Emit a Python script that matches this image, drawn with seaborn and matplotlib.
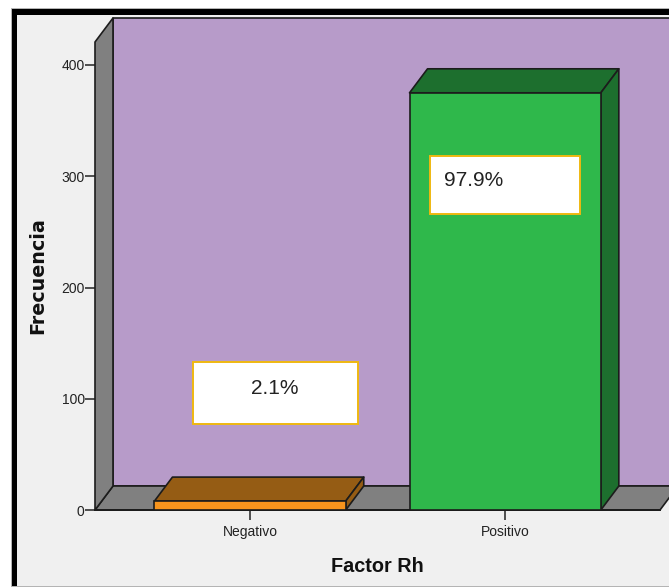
import matplotlib
matplotlib.use("Agg")
import matplotlib.pyplot as plt
import seaborn as sns
import pandas as pd
from matplotlib.patches import Polygon, Rectangle
from matplotlib.transforms import IdentityTransform

categories = ["Negativo", "Positivo"]
frequencies = [8, 375]
percent_labels = ["2.1%", "97.9%"]
front_colors = ["#f7941d", "#2fb84b"]
shade_colors = ["#955c14", "#1d6f2e"]
y_ticks = [0, 100, 200, 300, 400]

W, H = 669, 587
DEPTH_X, DEPTH_Y = 18, 24
EDGE = "#1c1c1c"

sns.set_theme(style="white")
plt.rcParams["font.family"] = ["Liberation Sans", "DejaVu Sans"]

fig = plt.figure(figsize=(W / 100, H / 100), dpi=100, facecolor="white")


def px_rect(x0, y0, x1, y1, **kw):
    # Rectangle given in pixels measured from the top-left corner
    r = Rectangle((x0, H - y1), x1 - x0, y1 - y0, transform=IdentityTransform(), **kw)
    fig.add_artist(r)
    return r


# Outer frame of the chart window
px_rect(11, 8, W + 5, H + 5, facecolor="#b4b4b4", edgecolor="none", zorder=-3)
px_rect(12, 9, W + 5, H - 1, facecolor="black", edgecolor="none", zorder=-2)
px_rect(17, 15, W + 5, H - 1, facecolor="#f0f0f0", edgecolor="none", zorder=-1)

ax = fig.add_axes([95 / W, (H - 510) / H, 565 / W, 468 / H])
ax.patch.set_visible(False)

df = pd.DataFrame({"rh": categories, "freq": frequencies})
sns.barplot(data=df, x="rh", y="freq", hue="rh", palette=front_colors, order=categories,
            hue_order=categories, dodge=False, legend=False, width=0.75,
            edgecolor=EDGE, linewidth=1.2, saturation=1, ax=ax, zorder=3)
ax.set_xlim(-0.608, 1.607)
ax.set_ylim(0, 468 / 1.1125)

# Depth expressed in data units
x0_d, y0_d = ax.transData.inverted().transform((0, 0))
x1_d, y1_d = ax.transData.inverted().transform((DEPTH_X, DEPTH_Y))
dx, dy = x1_d - x0_d, y1_d - y0_d
xl, xr = ax.get_xlim()
yb, yt = ax.get_ylim()


def face(points, color, z):
    ax.add_patch(Polygon(points, closed=True, facecolor=color, edgecolor=EDGE,
                         linewidth=1.2, zorder=z, clip_on=False, joinstyle="round"))


# Back wall, floor and side wall of the box
face([(xl + dx, yb + dy), (xr + dx, yb + dy), (xr + dx, yt + dy), (xl + dx, yt + dy)], "#b79bc9", 0.5)
face([(xl, yb), (xr, yb), (xr + dx, yb + dy), (xl + dx, yb + dy)], "#808080", 0.6)
face([(xl, yb), (xl + dx, yb + dy), (xl + dx, yt + dy), (xl, yt)], "#808080", 0.7)

# Top and side faces of every bar
for bar, shade in zip(ax.patches[:len(categories)], shade_colors):
    a, b = bar.get_x(), bar.get_x() + bar.get_width()
    h = bar.get_height()
    face([(a, h), (b, h), (b + dx, h + dy), (a + dx, h + dy)], shade, 2)
    face([(b, 0), (b + dx, dy), (b + dx, h + dy), (b, h)], shade, 2)

ax.set_yticks(y_ticks)
ax.set_xticks(range(len(categories)))
ax.set_xticklabels(categories)
ax.tick_params(axis="both", length=7.4, width=1.2, color="#333333", labelcolor="#222222",
               labelsize=10, pad=0, bottom=True, left=True)
ax.tick_params(axis="x", pad=3.5)
sns.despine(ax=ax, left=True, right=True, top=True)
ax.spines["bottom"].set_color(EDGE)
ax.spines["bottom"].set_linewidth(1.4)

ax.set_xlabel("Factor Rh", fontsize=14.3, fontweight="bold", color="#111111")
ax.set_ylabel("Frecuencia", fontsize=13.8, fontweight="bold", color="#111111",
              family="DejaVu Sans")
ax.xaxis.set_label_coords(0.499, -0.12, transform=ax.transAxes)
ax.yaxis.set_label_coords(-57 / 565, 0.5, transform=ax.transAxes)
ax.xaxis.label.set_verticalalignment("center")
ax.yaxis.label.set_verticalalignment("center")

# Percentage boxes
boxes = [(193, 362, 358, 424, 275, 388), (430, 156, 580, 214, 474, 181)]
for (x0, y0, x1, y1, tx, ty), label in zip(boxes, percent_labels):
    px_rect(x0, y0, x1, y1, facecolor="white", edgecolor="#efb810", linewidth=1.4, zorder=5)
    fig.text(tx / W, (H - ty) / H, label, ha="center", va="center",
             fontsize=15, color="#222222", zorder=6)

fig.savefig("out.png", dpi=100)
